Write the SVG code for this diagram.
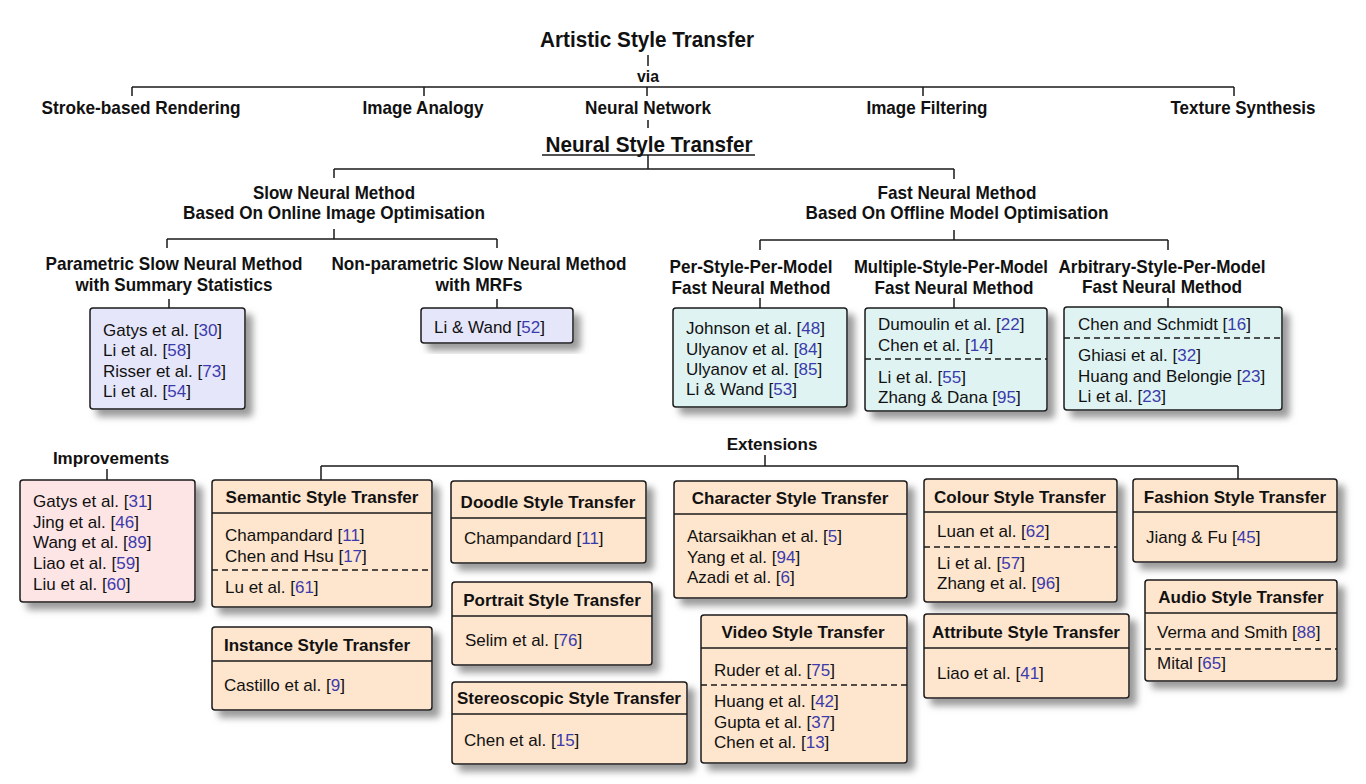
<svg xmlns="http://www.w3.org/2000/svg" width="1366" height="784" viewBox="0 0 1366 784">
<style>
text{font-family:"Liberation Sans",Arial,sans-serif;fill:#111}
.t1{font-size:22px;font-weight:bold;text-anchor:middle}
.l{font-size:18.5px;font-weight:bold;text-anchor:middle}
.hd{font-size:17px;font-weight:bold;text-anchor:middle}
.it{font-size:17px}
.r{fill:#3b3bab}
.box{stroke:#1a1a1a;stroke-width:1.5}
.lav{fill:#e6e6fa}
.cy{fill:#dff3f3}
.pk{fill:#fde4e5}
.pe{fill:#fee5cd}
.div{stroke:#1a1a1a;stroke-width:1.5;fill:none}
.dash{stroke:#1a1a1a;stroke-width:1.5;stroke-dasharray:6 4;fill:none}
.conn path{stroke:#1a1a1a;stroke-width:1.5;fill:none}
</style>
<defs>
<filter id="sh" x="-10%" y="-10%" width="130%" height="140%">
<feDropShadow dx="7" dy="7" stdDeviation="3.5" flood-color="#7a7a7a" flood-opacity="0.75"/>
</filter>
</defs>
<rect width="1366" height="784" fill="#fff"/>

<g class="conn" id="connectors">
<path d="M648,55 V66"/>
<path d="M132,87 H1234 M132,87 V96 M424,87 V96 M647,87 V96 M923,87 V96 M1234,87 V96"/>
<path d="M648,120 V128"/>
<path d="M648,155 V169 M334,169 H954 M334,169 V178 M954,169 V179"/>
<path d="M334,229 V239 M167,239 H497 M167,239 V248 M497,239 V248"/>
<path d="M954,230 V240 M760,240 H1168 M760,240 V250 M1168,240 V250"/>
<path d="M169,299 V308 M497,299 V308"/>
<path d="M760,298 V308 M954,298 V308 M1168,298 V307"/>
<path d="M107,469 V480"/>
<path d="M765,455 V466 M321,466 H1238 M321,466 V480 M1238,466 V479"/>
</g>

<g id="n-ast"><text class="t1" x="647" y="47" textLength="214" lengthAdjust="spacingAndGlyphs">Artistic Style Transfer</text></g>
<g id="n-via"><text class="l" x="648" y="82" style="font-size:16.5px" textLength="22" lengthAdjust="spacingAndGlyphs">via</text></g>
<g id="n-stroke"><text class="l" x="141" y="114" textLength="199" lengthAdjust="spacingAndGlyphs">Stroke-based Rendering</text></g>
<g id="n-analogy"><text class="l" x="423" y="114" textLength="121" lengthAdjust="spacingAndGlyphs">Image Analogy</text></g>
<g id="n-nn"><text class="l" x="648" y="114" textLength="126" lengthAdjust="spacingAndGlyphs">Neural Network</text></g>
<g id="n-filter"><text class="l" x="927" y="114" textLength="121" lengthAdjust="spacingAndGlyphs">Image Filtering</text></g>
<g id="n-texture"><text class="l" x="1243" y="114" textLength="145" lengthAdjust="spacingAndGlyphs">Texture Synthesis</text></g>
<g id="n-nst"><text class="t1" x="649" y="152" textLength="207" lengthAdjust="spacingAndGlyphs">Neural Style Transfer</text>
<path d="M542,155 H755" stroke="#1a1a1a" stroke-width="1.5"/></g>

<g id="n-slow"><text class="l" x="334" y="199" textLength="162" lengthAdjust="spacingAndGlyphs">Slow Neural Method</text><text class="l" x="334" y="219" textLength="302" lengthAdjust="spacingAndGlyphs">Based On Online Image Optimisation</text></g>
<g id="n-fast"><text class="l" x="957" y="199" textLength="159" lengthAdjust="spacingAndGlyphs">Fast Neural Method</text><text class="l" x="957" y="219" textLength="303" lengthAdjust="spacingAndGlyphs">Based On Offline Model Optimisation</text></g>

<g id="n-param"><text class="l" x="174" y="270" textLength="257" lengthAdjust="spacingAndGlyphs">Parametric Slow Neural Method</text><text class="l" x="174" y="291" textLength="197" lengthAdjust="spacingAndGlyphs">with Summary Statistics</text></g>
<g id="n-nonparam"><text class="l" x="479" y="270" textLength="295" lengthAdjust="spacingAndGlyphs">Non-parametric Slow Neural Method</text><text class="l" x="479" y="291" textLength="87" lengthAdjust="spacingAndGlyphs">with MRFs</text></g>
<g id="n-per"><text class="l" x="751" y="273" textLength="163" lengthAdjust="spacingAndGlyphs">Per-Style-Per-Model</text><text class="l" x="751" y="294" textLength="159" lengthAdjust="spacingAndGlyphs">Fast Neural Method</text></g>
<g id="n-multi"><text class="l" x="951" y="273" textLength="194" lengthAdjust="spacingAndGlyphs">Multiple-Style-Per-Model</text><text class="l" x="954" y="294" textLength="159" lengthAdjust="spacingAndGlyphs">Fast Neural Method</text></g>
<g id="n-arb"><text class="l" x="1162" y="273" textLength="207" lengthAdjust="spacingAndGlyphs">Arbitrary-Style-Per-Model</text><text class="l" x="1162" y="293" textLength="160" lengthAdjust="spacingAndGlyphs">Fast Neural Method</text></g>

<g id="b-param">
<rect class="box lav" x="90" y="308" width="155" height="101" rx="3" filter="url(#sh)"/>
<text class="it" x="103" y="336">Gatys et al. [<tspan class="r">30</tspan>]</text>
<text class="it" x="103" y="356">Li et al. [<tspan class="r">58</tspan>]</text>
<text class="it" x="103" y="377">Risser et al. [<tspan class="r">73</tspan>]</text>
<text class="it" x="103" y="397">Li et al. [<tspan class="r">54</tspan>]</text>
</g>
<g id="b-nonparam">
<rect class="box lav" x="421" y="308" width="152" height="35" rx="3" filter="url(#sh)"/>
<text class="it" x="434" y="333">Li &amp; Wand [<tspan class="r">52</tspan>]</text>
</g>
<g id="b-per">
<rect class="box cy" x="673" y="308" width="174" height="99" rx="3" filter="url(#sh)"/>
<text class="it" x="686" y="334">Johnson et al. [<tspan class="r">48</tspan>]</text>
<text class="it" x="686" y="355">Ulyanov et al. [<tspan class="r">84</tspan>]</text>
<text class="it" x="686" y="375">Ulyanov et al. [<tspan class="r">85</tspan>]</text>
<text class="it" x="686" y="395">Li &amp; Wand [<tspan class="r">53</tspan>]</text>
</g>
<g id="b-multi">
<rect class="box cy" x="865" y="308" width="182" height="103" rx="3" filter="url(#sh)"/>
<text class="it" x="878" y="330">Dumoulin et al. [<tspan class="r">22</tspan>]</text>
<text class="it" x="878" y="351">Chen et al. [<tspan class="r">14</tspan>]</text>
<path class="dash" d="M865,359 H1047"/>
<text class="it" x="878" y="383">Li et al. [<tspan class="r">55</tspan>]</text>
<text class="it" x="878" y="403">Zhang &amp; Dana [<tspan class="r">95</tspan>]</text>
</g>
<g id="b-arb">
<rect class="box cy" x="1064" y="307" width="218" height="103" rx="3" filter="url(#sh)"/>
<text class="it" x="1078" y="330">Chen and Schmidt [<tspan class="r">16</tspan>]</text>
<path class="dash" d="M1064,338 H1282"/>
<text class="it" x="1078" y="361">Ghiasi et al. [<tspan class="r">32</tspan>]</text>
<text class="it" x="1078" y="382">Huang and Belongie [<tspan class="r">23</tspan>]</text>
<text class="it" x="1078" y="402">Li et al. [<tspan class="r">23</tspan>]</text>
</g>

<g id="n-improvements"><text class="hd" x="111" y="464">Improvements</text></g>
<g id="b-improvements">
<rect class="box pk" x="20" y="480" width="175" height="122" rx="3" filter="url(#sh)"/>
<text class="it" x="33" y="507">Gatys et al. [<tspan class="r">31</tspan>]</text>
<text class="it" x="33" y="528">Jing et al. [<tspan class="r">46</tspan>]</text>
<text class="it" x="33" y="548">Wang et al. [<tspan class="r">89</tspan>]</text>
<text class="it" x="33" y="569">Liao et al. [<tspan class="r">59</tspan>]</text>
<text class="it" x="33" y="590">Liu et al. [<tspan class="r">60</tspan>]</text>
</g>

<g id="n-extensions"><text class="hd" x="772" y="450">Extensions</text></g>

<g id="b-semantic">
<rect class="box pe" x="212" y="480" width="220" height="127" rx="3" filter="url(#sh)"/>
<text class="hd" x="322" y="503">Semantic Style Transfer</text>
<path class="div" d="M212,513 H432"/>
<text class="it" x="225" y="541">Champandard [<tspan class="r">11</tspan>]</text>
<text class="it" x="225" y="562">Chen and Hsu [<tspan class="r">17</tspan>]</text>
<path class="dash" d="M212,570 H432"/>
<text class="it" x="225" y="593">Lu et al. [<tspan class="r">61</tspan>]</text>
</g>
<g id="b-instance">
<rect class="box pe" x="212" y="627" width="220" height="83" rx="3" filter="url(#sh)"/>
<text class="hd" x="317" y="651">Instance Style Transfer</text>
<path class="div" d="M212,661 H432"/>
<text class="it" x="224" y="691">Castillo et al. [<tspan class="r">9</tspan>]</text>
</g>
<g id="b-doodle">
<rect class="box pe" x="451" y="481" width="195" height="82" rx="3" filter="url(#sh)"/>
<text class="hd" x="548" y="508">Doodle Style Transfer</text>
<path class="div" d="M451,518 H646"/>
<text class="it" x="464" y="544">Champandard [<tspan class="r">11</tspan>]</text>
</g>
<g id="b-portrait">
<rect class="box pe" x="452" y="582" width="200" height="83" rx="3" filter="url(#sh)"/>
<text class="hd" x="552" y="606">Portrait Style Transfer</text>
<path class="div" d="M452,616 H652"/>
<text class="it" x="465" y="646">Selim et al. [<tspan class="r">76</tspan>]</text>
</g>
<g id="b-stereo">
<rect class="box pe" x="452" y="682" width="235" height="82" rx="3" filter="url(#sh)"/>
<text class="hd" x="569" y="704">Stereoscopic Style Transfer</text>
<path class="div" d="M452,714 H687"/>
<text class="it" x="464" y="746">Chen et al. [<tspan class="r">15</tspan>]</text>
</g>
<g id="b-character">
<rect class="box pe" x="674" y="481" width="233" height="117" rx="3" filter="url(#sh)"/>
<text class="hd" x="790" y="504">Character Style Transfer</text>
<path class="div" d="M674,514 H907"/>
<text class="it" x="687" y="542">Atarsaikhan et al. [<tspan class="r">5</tspan>]</text>
<text class="it" x="687" y="563">Yang et al. [<tspan class="r">94</tspan>]</text>
<text class="it" x="687" y="583">Azadi et al. [<tspan class="r">6</tspan>]</text>
</g>
<g id="b-video">
<rect class="box pe" x="701" y="615" width="206" height="148" rx="3" filter="url(#sh)"/>
<text class="hd" x="803" y="638">Video Style Transfer</text>
<path class="div" d="M701,648 H907"/>
<text class="it" x="714" y="676">Ruder et al. [<tspan class="r">75</tspan>]</text>
<path class="dash" d="M701,685 H907"/>
<text class="it" x="714" y="707">Huang et al. [<tspan class="r">42</tspan>]</text>
<text class="it" x="714" y="728">Gupta et al. [<tspan class="r">37</tspan>]</text>
<text class="it" x="714" y="748">Chen et al. [<tspan class="r">13</tspan>]</text>
</g>
<g id="b-colour">
<rect class="box pe" x="924" y="479" width="193" height="123" rx="3" filter="url(#sh)"/>
<text class="hd" x="1020" y="503">Colour Style Transfer</text>
<path class="div" d="M924,512 H1117"/>
<text class="it" x="937" y="537">Luan et al. [<tspan class="r">62</tspan>]</text>
<path class="dash" d="M924,547 H1117"/>
<text class="it" x="937" y="569">Li et al. [<tspan class="r">57</tspan>]</text>
<text class="it" x="937" y="589">Zhang et al. [<tspan class="r">96</tspan>]</text>
</g>
<g id="b-attribute">
<rect class="box pe" x="924" y="614" width="205" height="84" rx="3" filter="url(#sh)"/>
<text class="hd" x="1026" y="638">Attribute Style Transfer</text>
<path class="div" d="M924,648 H1129"/>
<text class="it" x="937" y="679">Liao et al. [<tspan class="r">41</tspan>]</text>
</g>
<g id="b-fashion">
<rect class="box pe" x="1133" y="479" width="204" height="83" rx="3" filter="url(#sh)"/>
<text class="hd" x="1235" y="503">Fashion Style Transfer</text>
<path class="div" d="M1133,512 H1337"/>
<text class="it" x="1146" y="543">Jiang &amp; Fu [<tspan class="r">45</tspan>]</text>
</g>
<g id="b-audio">
<rect class="box pe" x="1145" y="580" width="192" height="101" rx="3" filter="url(#sh)"/>
<text class="hd" x="1241" y="603">Audio Style Transfer</text>
<path class="div" d="M1145,613 H1337"/>
<text class="it" x="1157" y="638">Verma and Smith [<tspan class="r">88</tspan>]</text>
<path class="dash" d="M1145,649 H1337"/>
<text class="it" x="1157" y="669">Mital [<tspan class="r">65</tspan>]</text>
</g>
</svg>
